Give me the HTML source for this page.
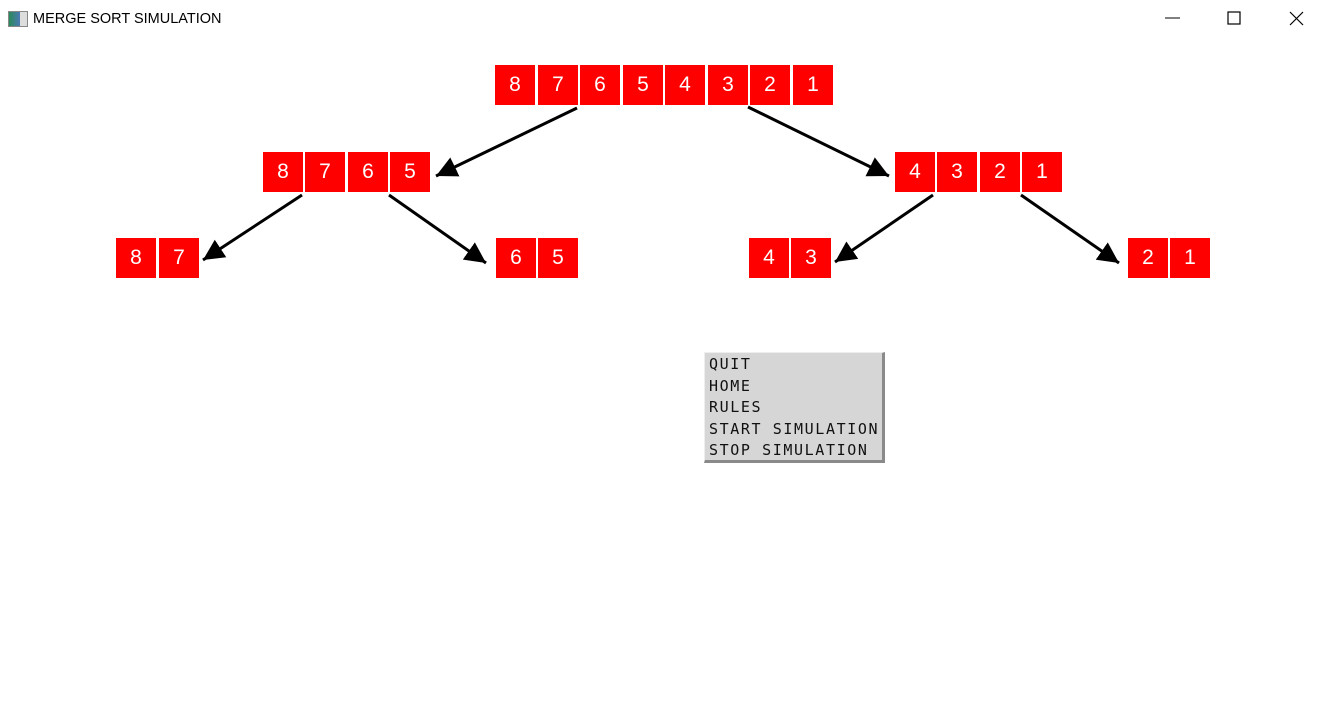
<!DOCTYPE html>
<html><head><meta charset="utf-8"><style>
html,body{margin:0;padding:0;background:#fff;width:1322px;height:703px;overflow:hidden;position:relative;font-family:"Liberation Sans",sans-serif}
.t{position:absolute;left:33px;top:11px;font-size:14.5px;color:#000}
.ic{position:absolute;left:8px;top:11px;width:18px;height:14px;border:1px solid #888;background:linear-gradient(90deg,#2a8a5a,#4a7ab0 60%,#ddd 60%)}
.b{position:absolute;width:40px;height:40px;background:#f00;color:#fff;font-size:21px;text-align:center;line-height:40px}
.menu{position:absolute;left:704px;top:352px;width:181px;height:111px;background:#d6d6d6;border-right:3px solid #8a8a8a;border-bottom:3px solid #8a8a8a;border-top:1px solid #eee;border-left:1px solid #eee;font-family:"DejaVu Sans Mono","Liberation Mono",monospace;font-size:15px;letter-spacing:1.6px;line-height:21.5px;padding-left:4px;box-sizing:border-box;padding-top:1px;color:#111;white-space:nowrap}
svg{position:absolute;left:0;top:0}
</style></head><body>
<div class="ic"></div><div class="t">MERGE SORT SIMULATION</div>
<svg width="1322" height="40">
<line x1="1165" y1="18" x2="1180" y2="18" stroke="#000" stroke-width="1"/>
<rect x="1228" y="12" width="12" height="12" fill="none" stroke="#000" stroke-width="1.2"/>
<path d="M1290 12 L1303 25 M1303 12 L1290 25" stroke="#000" stroke-width="1.2"/>
</svg>
<div class="b" style="left:495px;top:65px">8</div><div class="b" style="left:538px;top:65px">7</div><div class="b" style="left:580px;top:65px">6</div><div class="b" style="left:623px;top:65px">5</div><div class="b" style="left:665px;top:65px">4</div><div class="b" style="left:708px;top:65px">3</div><div class="b" style="left:750px;top:65px">2</div><div class="b" style="left:793px;top:65px">1</div>
<div class="b" style="left:263px;top:152px">8</div><div class="b" style="left:305px;top:152px">7</div><div class="b" style="left:348px;top:152px">6</div><div class="b" style="left:390px;top:152px">5</div>
<div class="b" style="left:895px;top:152px">4</div><div class="b" style="left:937px;top:152px">3</div><div class="b" style="left:980px;top:152px">2</div><div class="b" style="left:1022px;top:152px">1</div>
<div class="b" style="left:116px;top:238px">8</div><div class="b" style="left:159px;top:238px">7</div>
<div class="b" style="left:496px;top:238px">6</div><div class="b" style="left:538px;top:238px">5</div>
<div class="b" style="left:749px;top:238px">4</div><div class="b" style="left:791px;top:238px">3</div>
<div class="b" style="left:1128px;top:238px">2</div><div class="b" style="left:1170px;top:238px">1</div>
<svg width="1322" height="703">
<defs><marker id="a" viewBox="0 0 10 10" refX="10" refY="5" markerWidth="7" markerHeight="7" markerUnits="strokeWidth" orient="auto"><path d="M0 0 L10 5 L0 10 z" fill="#000"/></marker></defs>
<g stroke="#000" stroke-width="3" marker-end="url(#a)">
<line x1="577" y1="108" x2="436" y2="176"/>
<line x1="748" y1="107" x2="889" y2="176"/>
<line x1="302" y1="195" x2="203" y2="260"/>
<line x1="389" y1="195" x2="486" y2="263"/>
<line x1="933" y1="195" x2="835" y2="262"/>
<line x1="1021" y1="195" x2="1119" y2="263"/>
</g></svg>
<div class="menu">QUIT<br>HOME<br>RULES<br>START SIMULATION<br>STOP SIMULATION</div>
</body></html>
